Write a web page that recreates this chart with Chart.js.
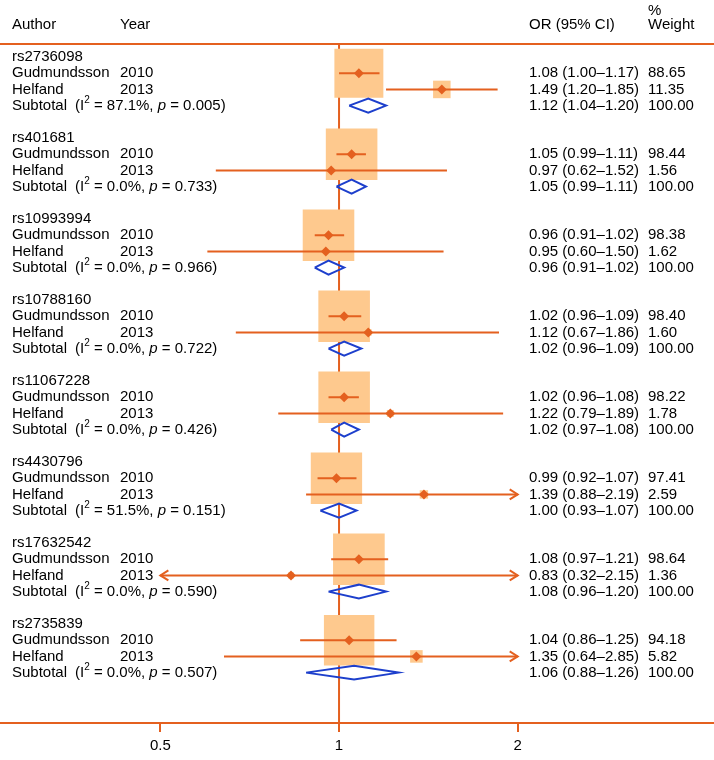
<!DOCTYPE html>
<html>
<head>
<meta charset="utf-8">
<script src="https://cdn.jsdelivr.net/npm/chart.js@4.4.0/dist/chart.umd.min.js"></script>
<style>
  html, body { margin: 0; padding: 0; background: #fff; }
</style>
</head>
<body>
<canvas id="forest" width="714" height="760"></canvas>
<script>
// datos del forest plot
const snps = ['rs2736098', 'rs401681', 'rs10993994', 'rs10788160', 'rs11067228', 'rs4430796', 'rs17632542', 'rs2735839'];
const studyNames = ['Gudmundsson', 'Helfand'];
const studyYears = ['2010', '2013'];

const gudOR = [1.08, 1.05, 0.96, 1.02, 1.02, 0.99, 1.08, 1.04];
const gudLo = [1.00, 0.99, 0.91, 0.96, 0.96, 0.92, 0.97, 0.86];
const gudHi = [1.17, 1.11, 1.02, 1.09, 1.08, 1.07, 1.21, 1.25];
const gudWt = [88.65, 98.44, 98.38, 98.40, 98.22, 97.41, 98.64, 94.18];

const helOR = [1.49, 0.97, 0.95, 1.12, 1.22, 1.39, 0.83, 1.35];
const helLo = [1.20, 0.62, 0.60, 0.67, 0.79, 0.88, 0.32, 0.64];
const helHi = [1.85, 1.52, 1.50, 1.86, 1.89, 2.19, 2.15, 2.85];
const helWt = [11.35, 1.56, 1.62, 1.60, 1.78, 2.59, 1.36, 5.82];

const subOR = [1.12, 1.05, 0.96, 1.02, 1.02, 1.00, 1.08, 1.06];
const subLo = [1.04, 0.99, 0.91, 0.96, 0.97, 0.93, 0.96, 0.88];
const subHi = [1.20, 1.11, 1.02, 1.09, 1.08, 1.07, 1.20, 1.26];
const subI2 = ['87.1%', '0.0%', '0.0%', '0.0%', '0.0%', '51.5%', '0.0%', '0.0%'];
const subP  = ['0.005', '0.733', '0.966', '0.722', '0.426', '0.151', '0.590', '0.507'];

const xTicks = [0.5, 1, 2];
const ciMin = 0.5, ciMax = 2;

// layout (filas)
const ROW_MIN = -3.52, ROW_MAX = 41.11, TOP_ROW = -0.8;
const ORANGE = '#e4601f', PEACH = '#fec98e', BLUE = '#1d3fcc';
const FONT = '15px "Liberation Sans", Arial, Helvetica, sans-serif';

const fmt = v => v.toFixed(2);

// armar datasets
let ciPts = [], boxPts = [], boxRad = [], markPts = [], diaPts = [], arrows = [];
snps.forEach((s, g) => {
    const base = g * 5;
    [[gudOR, gudLo, gudHi, gudWt], [helOR, helLo, helHi, helWt]].forEach((arr, k) => {
        const r = base + 1 + k;
        const or = arr[0][g], lo = arr[1][g], hi = arr[2][g], w = arr[3][g];
        const l = Math.max(lo, ciMin), h = Math.min(hi, ciMax);
        ciPts.push({x: l, y: r}, {x: h, y: r}, {x: h, y: null});
        if (lo < ciMin) arrows.push({x: ciMin, y: r, dir: -1});
        if (hi > ciMax) arrows.push({x: ciMax, y: r, dir: 1});
        boxPts.push({x: or, y: r});
        boxRad.push(5.2 * Math.sqrt(w) / Math.SQRT2);
        markPts.push({x: or, y: r});
    });
    const r = base + 3, dh = 0.43;
    diaPts.push({x: subLo[g], y: r}, {x: subOR[g], y: r - dh}, {x: subHi[g], y: r},
                {x: subOR[g], y: r + dh}, {x: subLo[g], y: r}, {x: subLo[g], y: null});
});

const tablePlugin = {
    id: 'tabla',
    beforeDatasetsDraw(chart) {
        const {ctx, chartArea, scales: {y}} = chart;
        ctx.save();
        ctx.strokeStyle = ORANGE; ctx.lineWidth = 2;
        const yy = Math.round(y.getPixelForValue(TOP_ROW));
        ctx.beginPath(); ctx.moveTo(chartArea.left, yy); ctx.lineTo(chartArea.right, yy); ctx.stroke();
        ctx.restore();
    },
    afterDatasetsDraw(chart) {
        const {ctx, scales: {x, y}} = chart;
        ctx.save();
        // flechas
        ctx.strokeStyle = ORANGE; ctx.lineWidth = 2;
        arrows.forEach(a => {
            const px = x.getPixelForValue(a.x), py = y.getPixelForValue(a.y);
            ctx.beginPath();
            ctx.moveTo(px - a.dir * 8, py - 5);
            ctx.lineTo(px, py);
            ctx.lineTo(px - a.dir * 8, py + 5);
            ctx.stroke();
        });
        // textos
        ctx.fillStyle = '#000'; ctx.font = FONT; ctx.textBaseline = 'middle'; ctx.textAlign = 'left';
        const hy = y.getPixelForValue(-1.98);
        ctx.fillText('Author', 12, hy);
        ctx.fillText('Year', 120, hy);
        ctx.fillText('OR (95% CI)', 529, hy);
        ctx.fillText('Weight', 648, hy);
        ctx.fillText('%', 648, y.getPixelForValue(-2.85));
        snps.forEach((s, g) => {
            const base = g * 5;
            ctx.font = FONT;
            ctx.fillText(s, 12, y.getPixelForValue(base));
            const rows = [[gudOR, gudLo, gudHi, gudWt], [helOR, helLo, helHi, helWt]];
            rows.forEach((arr, k) => {
                const py = y.getPixelForValue(base + 1 + k);
                ctx.fillText(studyNames[k], 12, py);
                ctx.fillText(studyYears[k], 120, py);
                ctx.fillText(fmt(arr[0][g]) + ' (' + fmt(arr[1][g]) + '\u2013' + fmt(arr[2][g]) + ')', 529, py);
                ctx.fillText(fmt(arr[3][g]), 648, py);
            });
            const py = y.getPixelForValue(base + 3);
            ctx.fillText('Subtotal', 12, py);
            let cx = 75;
            const put = (t, f, dy) => { ctx.font = f; ctx.fillText(t, cx, py + (dy || 0)); cx += ctx.measureText(t).width; };
            put('(I', FONT);
            put('2', '10px "Liberation Sans", Arial, sans-serif', -5);
            put(' = ' + subI2[g] + ', ', FONT);
            put('p', 'italic ' + FONT);
            put(' = ' + subP[g] + ')', FONT);
            ctx.font = FONT;
            ctx.fillText(fmt(subOR[g]) + ' (' + fmt(subLo[g]) + '\u2013' + fmt(subHi[g]) + ')', 529, py);
            ctx.fillText('100.00', 648, py);
        });
        ctx.restore();
    }
};

new Chart(document.getElementById('forest'), {
    type: 'scatter',
    data: {
        datasets: [
            { label: 'puntos', data: markPts, pointStyle: 'rectRot', pointRadius: 5,
              backgroundColor: ORANGE, borderWidth: 0, order: 1 },
            { label: 'subtotal', data: diaPts, showLine: true, borderColor: BLUE, borderWidth: 2,
              pointRadius: 0, fill: false, spanGaps: false, order: 2 },
            { label: 'ic', data: ciPts, showLine: true, borderColor: ORANGE, borderWidth: 2,
              pointRadius: 0, spanGaps: false, order: 3 },
            { label: 'pesos', data: boxPts, pointStyle: 'rect', pointRadius: boxRad,
              backgroundColor: PEACH, borderWidth: 0, order: 4 },
            { label: 'nulo', data: [{x: 1, y: TOP_ROW}, {x: 1, y: ROW_MAX}], showLine: true,
              borderColor: ORANGE, borderWidth: 2, pointRadius: 0, order: 5 }
        ]
    },
    options: {
        responsive: false, animation: false,
        layout: { autoPadding: false, padding: { left: 0, right: 0, top: 0, bottom: 0 } },
        plugins: { legend: { display: false }, tooltip: { enabled: false } },
        scales: {
            x: {
                type: 'logarithmic', min: 0.2684, max: 4.283,
                afterBuildTicks: sc => { sc.ticks = xTicks.map(v => ({ value: v })); },
                ticks: { callback: v => String(v), color: '#000', padding: 5, maxRotation: 0,
                         font: { family: '"Liberation Sans", Arial, sans-serif', size: 15 } },
                grid: { drawOnChartArea: false, drawTicks: true, tickLength: 9, color: ORANGE, lineWidth: 2 },
                border: { display: true, color: ORANGE, width: 2 }
            },
            y: { type: 'linear', display: false, reverse: true, min: ROW_MIN, max: ROW_MAX }
        }
    },
    plugins: [tablePlugin]
});
</script>
</body>
</html>
